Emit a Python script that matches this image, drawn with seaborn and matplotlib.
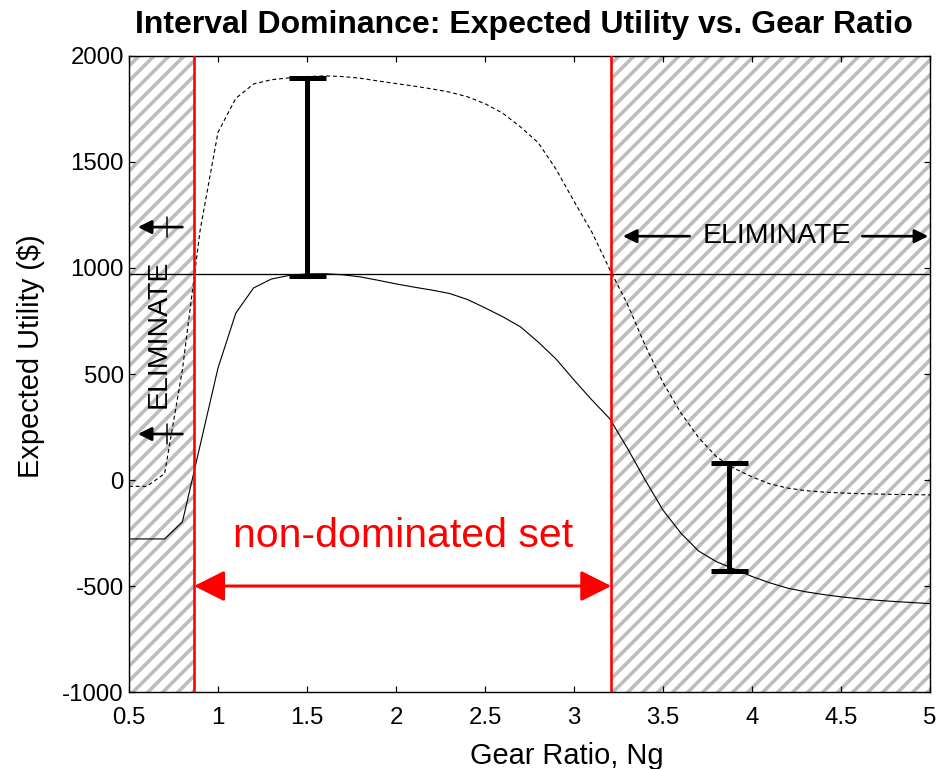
import numpy as np
import pandas as pd
import seaborn as sns
import matplotlib.pyplot as plt

# gear ratio grid and the two expected-utility bounds
gear_ratio = [0.5, 0.6, 0.7, 0.8, 0.9, 1.0, 1.1, 1.2, 1.3, 1.4,
              1.5, 1.6, 1.7, 1.8, 1.9, 2.0, 2.1, 2.2, 2.3, 2.4,
              2.5, 2.6, 2.7, 2.8, 2.9, 3.0, 3.1, 3.2, 3.3, 3.4,
              3.5, 3.6, 3.7, 3.8, 3.9, 4.0, 4.1, 4.2, 4.3, 4.4,
              4.5, 4.6, 4.7, 4.8, 4.9, 5.0]
upper_eu = [-30, -30, 30, 520, 1180, 1640, 1800, 1868, 1888, 1897,
            1903, 1906, 1903, 1895, 1882, 1870, 1858, 1845, 1830, 1808,
            1775, 1730, 1665, 1590, 1465, 1315, 1170, 995, 830, 635,
            460, 317, 200, 110, 55, 15, -18, -38, -50, -57,
            -61, -64, -66, -68, -69, -70]
lower_eu = [-278, -278, -278, -198, 165, 528, 787, 906, 948, 965,
            972, 973, 968, 958, 942, 925, 910, 896, 880, 852,
            812, 770, 722, 650, 570, 472, 378, 290, 150, 0,
            -142, -250, -335, -385, -420, -455, -485, -510, -527, -540,
            -551, -560, -567, -573, -578, -583]

# interval bars
bar_x = [1.5, 3.87]
bar_low = [960, -429]
bar_high = [1895, 80]

threshold = 972          # max of the lower bound
nd_lo, nd_hi = 0.865, 3.21   # edges of the non-dominated set

x_ticks = [0.5, 1, 1.5, 2, 2.5, 3, 3.5, 4, 4.5, 5]
x_labels = ['0.5', '1', '1.5', '2', '2.5', '3', '3.5', '4', '4.5', '5']
y_ticks = [-1000, -500, 0, 500, 1000, 1500, 2000]
y_labels = ['-1000', '-500', '0', '500', '1000', '1500', '2000']

df = pd.DataFrame({'Ng': gear_ratio, 'upper': upper_eu, 'lower': lower_eu})

DPI = 135
def pt(px):
    return px * 72 / DPI

sns.set_style('ticks')
plt.rcParams['font.family'] = ['Liberation Sans', 'DejaVu Sans']
plt.rcParams['hatch.linewidth'] = pt(3.6)
plt.rcParams['text.color'] = 'black'
plt.rcParams['axes.labelcolor'] = 'black'

fig, ax = plt.subplots(figsize=(945 / DPI, 769 / DPI), dpi=DPI)
fig.subplots_adjust(left=0.1365, right=0.9841, bottom=0.1001, top=0.9272)

# hatched eliminated regions
for a, b in [(0.5, nd_lo), (nd_hi, 5)]:
    ax.axvspan(a, b, facecolor='white', edgecolor='#bdbdbd', hatch='///',
               linewidth=0, zorder=0)

sns.lineplot(data=df, x='Ng', y='upper', color='black', lw=0.6,
             ls=(0, (3.5, 2.5)), ax=ax, zorder=3)
sns.lineplot(data=df, x='Ng', y='lower', color='black', lw=0.6, ax=ax, zorder=3)

ax.axhline(threshold, color='black', lw=0.7, zorder=2)
for xv in (nd_lo, nd_hi):
    ax.axvline(xv, color='red', lw=pt(2.6), zorder=4)

# interval bars
mid = [(l + h) / 2 for l, h in zip(bar_low, bar_high)]
err = [(h - l) / 2 for l, h in zip(bar_low, bar_high)]
ax.errorbar(bar_x, mid, yerr=err, fmt='none', ecolor='black',
            elinewidth=pt(5), capsize=pt(18.5), capthick=pt(5), zorder=5)

# non-dominated set arrow and text
ax.annotate('', xy=(nd_lo, -500), xytext=(nd_hi, -500),
            arrowprops=dict(arrowstyle='<|-|>', color='red', lw=pt(3),
                            mutation_scale=35, shrinkA=0, shrinkB=0), zorder=6)
ax.text(2.04, -316, 'non-dominated set', color='red', fontsize=pt(41),
        ha='center', va='baseline')

# right ELIMINATE label
ax.text(4.14, 1150, 'ELIMINATE', fontsize=pt(28.5), ha='center', va='center')
arrow_kw = dict(arrowstyle='-|>', color='black', lw=pt(2.7),
                mutation_scale=15, shrinkA=0, shrinkB=0)
ax.annotate('', xy=(3.275, 1150), xytext=(3.65, 1150), arrowprops=arrow_kw)
ax.annotate('', xy=(4.99, 1150), xytext=(4.62, 1150), arrowprops=arrow_kw)

# left ELIMINATE label
ax.text(0.669, 689, 'ELIMINATE', fontsize=pt(28.5), ha='center',
        va='center', rotation=90)
for yv in (1193, 217):
    ax.annotate('', xy=(0.55, yv), xytext=(0.80, yv), arrowprops=arrow_kw)
    ax.plot([0.713, 0.713], [yv - 47, yv + 47], color='black', lw=pt(1.5))

ax.set_xlim(0.5, 5)
ax.set_ylim(-1000, 2000)
ax.set_xticks(x_ticks)
ax.set_xticklabels(x_labels)
ax.set_yticks(y_ticks)
ax.set_yticklabels(y_labels)
ax.tick_params(direction='in', top=True, right=True, length=pt(6),
               width=pt(1.2), labelsize=pt(24), colors='black')
ax.tick_params(axis='x', pad=pt(15))
ax.tick_params(axis='y', pad=pt(5))
for s in ax.spines.values():
    s.set_linewidth(pt(1.4))
    s.set_color('black')

ax.set_xlabel('Gear Ratio, Ng', fontsize=pt(29))
ax.set_ylabel('Expected Utility ($)', fontsize=pt(29))
ax.xaxis.set_label_coords(0.547, -0.079)
ax.yaxis.set_label_coords(-0.105, 0.5275)
ax.set_title('Interval Dominance: Expected Utility vs. Gear Ratio',
             fontsize=pt(32), fontweight='bold', pad=pt(23), x=0.493)

fig.savefig('out.png', dpi=DPI)
